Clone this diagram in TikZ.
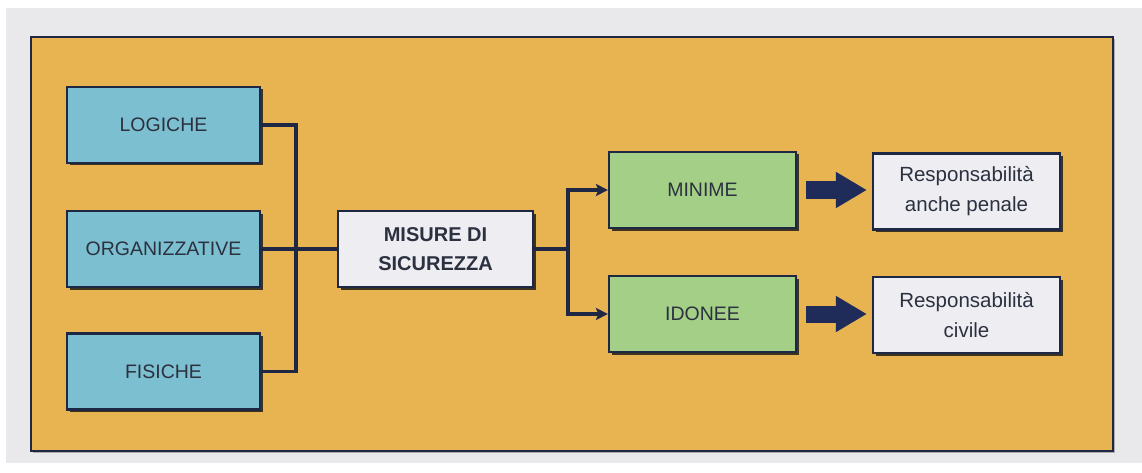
\documentclass[tikz,border=0pt]{standalone}
\usepackage{fontspec}
\setmainfont{Liberation Sans}
\usetikzlibrary{arrows.meta,shadows}
\definecolor{pagegray}{HTML}{E9E9EC}
\definecolor{frameor}{HTML}{E8B452}
\definecolor{navy}{HTML}{1E2744}
\definecolor{tealbox}{HTML}{7CBFD0}
\definecolor{greenbox}{HTML}{A4CF87}
\definecolor{lightbox}{HTML}{EDEDF2}
\definecolor{txt}{HTML}{2C3140}
\definecolor{fatnavy}{HTML}{1F2B58}
\tikzset{
  box/.style={draw=navy, line width=2.2pt, inner sep=0pt, align=center, text=txt,
    drop shadow={shadow xshift=2.5pt, shadow yshift=-2.5pt, fill=black!80!navy, opacity=0.75}},
  capsbox/.style={box, font=\fontsize{19.5}{22}\selectfont},
  leftbox/.style={capsbox, fill=tealbox, minimum width=193pt, minimum height=76pt},
  greenb/.style={capsbox, fill=greenbox, minimum width=187pt, minimum height=76pt},
  midbox/.style={box, fill=lightbox, minimum width=195pt, minimum height=76pt,
    font=\bfseries\fontsize{20}{29}\selectfont},
  respbox/.style={box, fill=lightbox, minimum width=187pt, minimum height=76pt,
    font=\fontsize{20.5}{30}\selectfont},
  link/.style={draw=navy, line width=3.5pt},
  linkarrow/.style={link, -{Stealth[length=12pt,width=12pt,inset=2.5pt]}},
  fatarrow/.style={draw=fatnavy, line width=17pt, line cap=butt,
    -{Triangle[length=31pt,width=34pt]}, shorten <=9pt, shorten >=5pt}
}
\begin{document}
\begin{tikzpicture}[x=1pt,y=-1pt]
\useasboundingbox (0,0) rectangle (1142,473);
\fill[white] (0,0) rectangle (1142,473);
\fill[pagegray] (6,8) rectangle (1142,463);
\fill[black!55, opacity=0.5] (33,39) rectangle (1115,453);
\filldraw[fill=frameor, draw=navy, line width=1.4pt] (31,37) rectangle (1113,451);

\node[leftbox] (log) at (163.5,125) {LOGICHE};
\node[leftbox] (org) at (163.5,249) {ORGANIZZATIVE};
\node[leftbox] (fis) at (163.5,371.5) {FISICHE};
\node[midbox] (mis) at (435.5,249) {MISURE DI\\SICUREZZA};
\node[greenb] (min) at (702.5,190) {MINIME};
\node[greenb] (ido) at (702.5,314) {IDONEE};
\node[respbox] (rp) at (966.5,191.5) {Responsabilità\\anche penale};
\node[respbox] (rc) at (966.5,315) {Responsabilità\\civile};

\coordinate (j1) at (296,249);
\coordinate (j2) at (568,249);

\draw[link] (log.east) -| (j1);
\draw[link] (fis.east) -| (j1);
\draw[link] (org.east) -- (mis.west);
\draw[link] (mis.east) -- (j2);
\draw[linkarrow] (j2) |- (min.west);
\draw[linkarrow] (j2) |- (ido.west);

\draw[fatarrow] (min.east) -- (rp.west |- min.east);
\draw[fatarrow] (ido.east) -- (rc.west |- ido.east);
\end{tikzpicture}
\end{document}
